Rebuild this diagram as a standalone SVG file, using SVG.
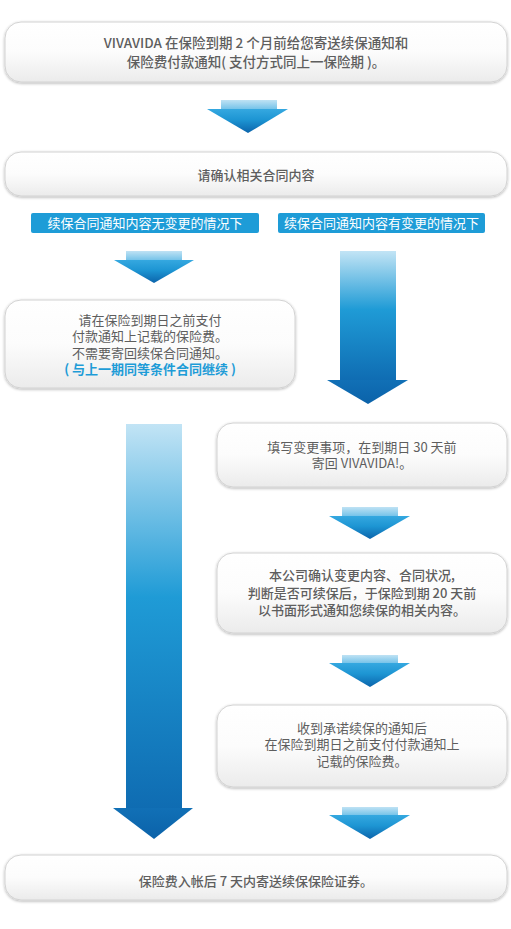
<svg xmlns="http://www.w3.org/2000/svg" width="511" height="929" viewBox="0 0 511 929">
<defs>
<linearGradient id="boxg" x1="0" y1="0" x2="0" y2="1">
<stop offset="0" stop-color="#ffffff"/>
<stop offset="0.5" stop-color="#fcfcfc"/>
<stop offset="1" stop-color="#ebebeb"/>
</linearGradient>
<linearGradient id="shaftS" x1="0" y1="0" x2="0" y2="1">
<stop offset="0" stop-color="#bfe2f4"/>
<stop offset="1" stop-color="#6ec0e8"/>
</linearGradient>
<linearGradient id="headS" x1="0" y1="0" x2="0" y2="1">
<stop offset="0" stop-color="#35a8e0"/>
<stop offset="0.45" stop-color="#1d95d3"/>
<stop offset="1" stop-color="#0b64ab"/>
</linearGradient>
<linearGradient id="shaftL" x1="0" y1="0" x2="0" y2="1">
<stop offset="0" stop-color="#c2e4f5"/>
<stop offset="0.45" stop-color="#1f9bd6"/>
<stop offset="1" stop-color="#0f6cb2"/>
</linearGradient>
<linearGradient id="headL" x1="0" y1="0" x2="0" y2="1">
<stop offset="0" stop-color="#1170b6"/>
<stop offset="1" stop-color="#0b62a9"/>
</linearGradient>
<filter id="sh" x="-5%" y="-20%" width="110%" height="140%">
<feGaussianBlur in="SourceAlpha" stdDeviation="1.5"/>
<feOffset dy="1"/>
<feComponentTransfer><feFuncA type="linear" slope="0.3"/></feComponentTransfer>
<feMerge><feMergeNode/><feMergeNode in="SourceGraphic"/></feMerge>
</filter>
</defs>
<style>
.box{fill:url(#boxg);stroke:#d2d2d2;stroke-width:1;filter:url(#sh)}
.t{font-family:"Noto Sans CJK SC","Liberation Sans",sans-serif;font-size:13px;fill:#5e5e5e;text-anchor:middle}
.b{font-weight:500}
.big{font-size:13.5px}
.lbl{fill:#1e9cd7}
.lt{font-family:"Noto Sans CJK SC","Liberation Sans",sans-serif;font-size:13px;fill:#ffffff;text-anchor:middle}
.blue{fill:#1e9cd7;font-weight:bold}
</style>
<rect width="511" height="929" fill="#ffffff"/>
<g id="connectors">
<g id="arrow1"><rect x="221" y="100" width="56" height="10" fill="url(#shaftS)"/><polygon points="207,109 288,109 248,133" fill="url(#headS)"/></g>
<g id="arrow2"><rect x="126" y="251" width="56" height="10" fill="url(#shaftS)"/><polygon points="114,260 194,260 154,283" fill="url(#headS)"/></g>
<g id="arrowLongRight"><rect x="340" y="251" width="56" height="130" fill="url(#shaftL)"/><polygon points="327,380 408,380 368,404" fill="url(#headL)"/></g>
<g id="arrowLongLeft"><rect x="126" y="424" width="56" height="385" fill="url(#shaftL)"/><polygon points="113,808 193,808 154,839" fill="url(#headL)"/></g>
<g id="arrow3"><rect x="342" y="507" width="56" height="10" fill="url(#shaftS)"/><polygon points="329,516 410,516 370,539" fill="url(#headS)"/></g>
<g id="arrow4"><rect x="342" y="655" width="56" height="9" fill="url(#shaftS)"/><polygon points="329,663 410,663 370,687" fill="url(#headS)"/></g>
<g id="arrow5"><rect x="342" y="807" width="56" height="9" fill="url(#shaftS)"/><polygon points="329,815 410,815 370,839" fill="url(#headS)"/></g>
</g>
<g id="node1">
<rect class="box" x="5" y="22" width="502" height="60" rx="16"/>
<text class="t b big" x="256" y="48">VIVAVIDA 在保险到期 2 个月前给您寄送续保通知和</text>
<text class="t b big" x="256" y="67">保险费付款通知( 支付方式同上一保险期 )。</text>
</g>
<g id="node2">
<rect class="box" x="5" y="152" width="502" height="44" rx="16"/>
<text class="t b" x="256" y="180">请确认相关合同内容</text>
</g>
<g id="label-left">
<rect class="lbl" x="31" y="213" width="228" height="20" rx="2"/>
<text class="lt" x="145" y="228">续保合同通知内容无变更的情况下</text>
</g>
<g id="label-right">
<rect class="lbl" x="278" y="213" width="207" height="20" rx="2"/>
<text class="lt" x="381.5" y="228">续保合同通知内容有变更的情况下</text>
</g>
<g id="node3">
<rect class="box" x="5" y="300" width="290" height="88" rx="16"/>
<text class="t" x="150" y="325">请在保险到期日之前支付</text>
<text class="t" x="150" y="341">付款通知上记载的保险费。</text>
<text class="t" x="150" y="358">不需要寄回续保合同通知。</text>
<text class="t blue" x="150" y="374">( 与上一期同等条件合同继续 )</text>
</g>
<g id="node4">
<rect class="box" x="217" y="423" width="290" height="64" rx="16"/>
<text class="t" x="362" y="452">填写变更事项，在到期日 30 天前</text>
<text class="t" x="362" y="468">寄回 VIVAVIDA!。</text>
</g>
<g id="node5">
<rect class="box" x="217" y="553" width="290" height="80" rx="16"/>
<text class="t b" x="362" y="580">本公司确认变更内容、合同状况,</text>
<text class="t b" x="362" y="598">判断是否可续保后，于保险到期 20 天前</text>
<text class="t b" x="362" y="615">以书面形式通知您续保的相关内容。</text>
</g>
<g id="node6">
<rect class="box" x="217" y="705" width="290" height="82" rx="16"/>
<text class="t" x="362" y="733">收到承诺续保的通知后</text>
<text class="t" x="362" y="749">在保险到期日之前支付付款通知上</text>
<text class="t" x="362" y="766">记载的保险费。</text>
</g>
<g id="node7">
<rect class="box" x="5" y="855" width="502" height="45" rx="16"/>
<text class="t b" x="256" y="886">保险费入帐后 7 天内寄送续保保险证券。</text>
</g>
</svg>
